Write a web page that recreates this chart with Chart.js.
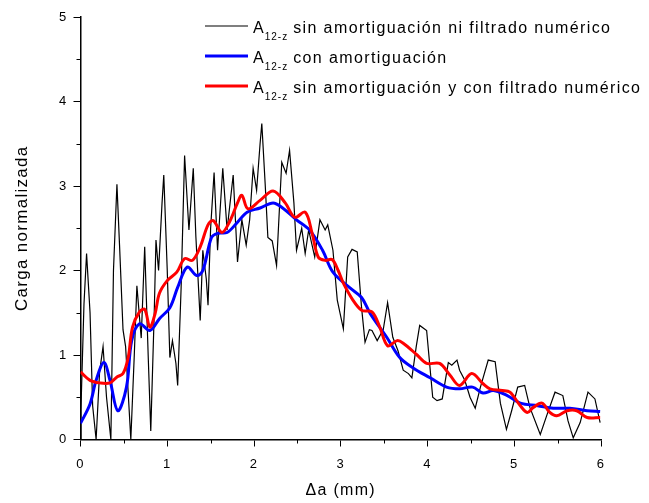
<!DOCTYPE html>
<html>
<head>
<meta charset="utf-8">
<script src="https://cdn.jsdelivr.net/npm/chart.js@4/dist/chart.umd.min.js"></script>
<style>
  html, body { margin: 0; padding: 0; background: #fff; }
  #wrap { width: 649px; height: 503px; }
</style>
</head>
<body>
<div id="wrap"><canvas id="c" width="649" height="503"></canvas></div>
<script>
// Crack extension Δa (mm) and normalised load for A12-z, three processing variants.

// Raw signal: no damping, no numerical filtering
const rawX = [0.00, 0.005, 0.04, 0.07, 0.11, 0.14, 0.18, 0.22, 0.26, 0.30, 0.35, 0.38, 0.42, 0.45, 0.49, 0.52, 0.58,
  0.62, 0.65, 0.70, 0.74, 0.78, 0.81, 0.85, 0.87, 0.90, 0.94, 0.96, 1.00, 1.03, 1.06, 1.10, 1.12, 1.16, 1.20,
  1.25, 1.30, 1.33, 1.38, 1.41, 1.45, 1.47, 1.50, 1.54, 1.58, 1.64, 1.69, 1.76, 1.81, 1.86, 1.91, 1.95, 1.99,
  2.03, 2.07, 2.09, 2.13, 2.16, 2.21, 2.26, 2.32, 2.37, 2.41, 2.46, 2.49, 2.55, 2.59, 2.63, 2.70, 2.76, 2.82,
  2.85, 2.91, 2.96, 3.03, 3.08, 3.13, 3.19, 3.24, 3.28, 3.33, 3.36, 3.42, 3.49, 3.54, 3.60, 3.66, 3.72, 3.78,
  3.82, 3.87, 3.91, 3.99, 4.06, 4.11, 4.17, 4.24, 4.28, 4.34, 4.37, 4.43, 4.49, 4.55, 4.61, 4.70, 4.78, 4.84,
  4.91, 4.97, 5.04, 5.12, 5.18, 5.30, 5.38, 5.47, 5.56, 5.62, 5.68, 5.76, 5.85, 5.93, 5.99];
const rawY = [0.00, 0.35, 1.60, 2.20, 1.50, 0.40, 0.00, 0.80, 1.10, 0.50, 0.00, 2.00, 3.02, 2.30, 1.30, 1.10, 0.00,
  1.00, 1.82, 1.20, 2.28, 1.00, 0.10, 1.50, 2.36, 2.00, 2.80, 3.13, 2.00, 0.97, 1.17, 0.90, 0.64, 1.80, 3.36,
  2.48, 3.21, 2.40, 1.41, 2.24, 1.90, 1.59, 2.50, 3.16, 2.24, 3.21, 2.48, 3.13, 2.10, 2.60, 2.30, 2.60, 3.21,
  2.95, 3.50, 3.74, 3.00, 2.39, 2.35, 2.06, 3.28, 3.15, 3.42, 2.80, 2.24, 2.50, 2.20, 2.48, 2.16, 2.60, 2.48,
  2.54, 2.24, 1.65, 1.31, 2.16, 2.25, 2.22, 1.56, 1.15, 1.30, 1.29, 1.17, 1.30, 1.62, 1.21, 1.05, 0.82, 0.78,
  0.73, 1.10, 1.35, 1.29, 0.50, 0.46, 0.48, 0.91, 0.88, 0.94, 0.82, 0.70, 0.50, 0.37, 0.62, 0.94, 0.92, 0.43,
  0.12, 0.34, 0.62, 0.64, 0.38, 0.06, 0.30, 0.56, 0.52, 0.22, 0.02, 0.20, 0.56, 0.48, 0.20];

// With damping
const dampedX = [0.00, 0.11, 0.18, 0.27, 0.34, 0.43, 0.53, 0.59, 0.68, 0.80, 0.91, 1.03, 1.12, 1.23, 1.34, 1.41,
  1.51, 1.58, 1.69, 1.80, 1.92, 2.07, 2.22, 2.33, 2.49, 2.64, 2.79, 2.91, 3.11, 3.24, 3.34, 3.53, 3.68, 3.83,
  4.03, 4.22, 4.37, 4.52, 4.64, 4.76, 4.92, 5.07, 5.27, 5.45, 5.64, 5.84, 5.99];
const dampedY = [0.19, 0.42, 0.70, 0.91, 0.70, 0.34, 0.62, 1.17, 1.37, 1.29, 1.43, 1.56, 1.80, 2.04, 1.94, 2.00,
  2.39, 2.44, 2.45, 2.56, 2.69, 2.74, 2.80, 2.74, 2.60, 2.48, 2.24, 1.98, 1.79, 1.68, 1.49, 1.21, 0.97, 0.85,
  0.73, 0.62, 0.60, 0.62, 0.55, 0.58, 0.52, 0.43, 0.40, 0.37, 0.37, 0.34, 0.33];

// No damping, with numerical filtering
const filteredX = [0.00, 0.11, 0.22, 0.34, 0.42, 0.49, 0.55, 0.60, 0.68, 0.74, 0.80, 0.86, 0.91, 1.00, 1.11, 1.20,
  1.29, 1.38, 1.47, 1.53, 1.63, 1.72, 1.81, 1.86, 1.93, 2.07, 2.22, 2.36, 2.47, 2.59, 2.67, 2.74, 2.82, 2.90,
  2.97, 3.03, 3.14, 3.24, 3.36, 3.45, 3.54, 3.65, 3.72, 3.88, 3.99, 4.14, 4.26, 4.37, 4.51, 4.64, 4.72, 4.86,
  4.95, 5.07, 5.15, 5.22, 5.32, 5.41, 5.49, 5.61, 5.72, 5.84, 5.99];
const filteredY = [0.80, 0.70, 0.67, 0.67, 0.74, 0.78, 0.97, 1.33, 1.51, 1.54, 1.33, 1.49, 1.73, 1.88, 1.98, 2.14,
  2.12, 2.28, 2.54, 2.59, 2.45, 2.58, 2.80, 2.89, 2.73, 2.83, 2.94, 2.80, 2.63, 2.69, 2.44, 2.16, 2.12, 2.13,
  2.00, 1.85, 1.65, 1.53, 1.51, 1.33, 1.11, 1.17, 1.14, 1.00, 0.90, 0.90, 0.76, 0.64, 0.78, 0.66, 0.60, 0.58,
  0.56, 0.40, 0.32, 0.38, 0.43, 0.32, 0.28, 0.34, 0.34, 0.26, 0.26];

// Axis ticks
const xMajor = [0, 1, 2, 3, 4, 5, 6];
const xMinor = [0.5, 1.5, 2.5, 3.5, 4.5, 5.5];
const yMajor = [0, 1, 2, 3, 4, 5];
const yMinor = [0.5, 1.5, 2.5, 3.5, 4.5];

// Legend entries: main symbol, subscript, description
const seriesSymbol = 'A';
const seriesSubscript = '12-z';
const legendTexts = [
  'sin amortiguación ni filtrado numérico',
  'con amortiguación',
  'sin amortiguación y con filtrado numérico'
];
const seriesColors = ['#000000', '#0000ff', '#ff0000'];
const seriesWidths = [1.2, 3, 3];

const xTitle = 'Δa (mm)';
const yTitle = 'Carga normalizada';

const FONT = '"Liberation Sans", Arial, sans-serif';

const toPoints = (xs, ys) => xs.map((x, i) => ({ x, y: ys[i] }));

// Minor ticks on both axes, drawn through the chart scales
const minorTicks = {
  id: 'minorTicks',
  afterDraw(chart) {
    const ctx = chart.ctx;
    const sx = chart.scales.x, sy = chart.scales.y;
    ctx.save();
    ctx.strokeStyle = '#000';
    ctx.lineWidth = 1;
    ctx.beginPath();
    xMinor.forEach(v => {
      const p = Math.round(sx.getPixelForValue(v)) + 0.5;
      ctx.moveTo(p, sx.top);
      ctx.lineTo(p, sx.top + 4);
    });
    yMinor.forEach(v => {
      const p = Math.round(sy.getPixelForValue(v)) + 0.5;
      ctx.moveTo(sy.right - 4, p);
      ctx.lineTo(sy.right, p);
    });
    ctx.stroke();
    ctx.restore();
  }
};

// Legend with subscripted series symbol
const subLegend = {
  id: 'subLegend',
  afterDraw(chart) {
    const ctx = chart.ctx;
    ctx.save();
    ctx.textAlign = 'left';
    ctx.textBaseline = 'alphabetic';
    legendTexts.forEach((txt, i) => {
      const base = 33 + i * 30;
      ctx.strokeStyle = seriesColors[i];
      ctx.lineWidth = seriesWidths[i];
      ctx.beginPath();
      ctx.moveTo(205, base - 7);
      ctx.lineTo(248, base - 7);
      ctx.stroke();
      ctx.fillStyle = '#000';
      let x = 253;
      ctx.letterSpacing = '1px';
      ctx.font = '16px ' + FONT;
      ctx.fillText(seriesSymbol, x, base);
      x += ctx.measureText(seriesSymbol).width;
      ctx.font = '10px ' + FONT;
      ctx.fillText(seriesSubscript, x, base + 7);
      x += ctx.measureText(seriesSubscript).width + 5;
      ctx.letterSpacing = '1.4px';
      ctx.font = '16px ' + FONT;
      ctx.fillText(txt, x, base);
    });
    ctx.restore();
  }
};

// Wider letter spacing for all canvas text
const spacing = {
  id: 'spacing',
  beforeDraw(chart) { chart.ctx.letterSpacing = '1.3px'; }
};

new Chart(document.getElementById('c'), {
  type: 'line',
  data: {
    datasets: [
      {
        label: seriesSymbol + seriesSubscript + ' ' + legendTexts[2],
        data: toPoints(filteredX, filteredY),
        borderColor: seriesColors[2], borderWidth: seriesWidths[2],
        pointRadius: 0, tension: 0.35, fill: false
      },
      {
        label: seriesSymbol + seriesSubscript + ' ' + legendTexts[1],
        data: toPoints(dampedX, dampedY),
        borderColor: seriesColors[1], borderWidth: seriesWidths[1],
        pointRadius: 0, tension: 0.35, fill: false
      },
      {
        label: seriesSymbol + seriesSubscript + ' ' + legendTexts[0],
        data: toPoints(rawX, rawY),
        borderColor: seriesColors[0], borderWidth: seriesWidths[0],
        pointRadius: 0, tension: 0, fill: false
      }
    ]
  },
  options: {
    responsive: false,
    animation: false,
    devicePixelRatio: 1,
    layout: { padding: { left: 0, right: 48, top: 17, bottom: 0 } },
    plugins: { legend: { display: false }, tooltip: { enabled: false } },
    scales: {
      x: {
        type: 'linear', min: 0, max: 6,
        afterFit(s) { s.height = 63.5; },
        afterBuildTicks(s) { s.ticks = xMajor.map(v => ({ value: v })); },
        border: { display: true, color: '#000', width: 1.5 },
        grid: { display: true, drawOnChartArea: false, drawTicks: true, tickLength: 7, color: '#000', lineWidth: 1 },
        ticks: { color: '#000', padding: 10, maxRotation: 0, font: { family: FONT, size: 13 } },
        title: { display: true, text: xTitle, color: '#000', padding: { top: 0, bottom: 3 }, font: { family: FONT, size: 16 } }
      },
      y: {
        type: 'linear', min: 0, max: 5,
        afterFit(s) { s.width = 80.5; },
        afterBuildTicks(s) { s.ticks = yMajor.map(v => ({ value: v })); },
        border: { display: true, color: '#000', width: 1.5 },
        grid: { display: true, drawOnChartArea: false, drawTicks: true, tickLength: 7, color: '#000', lineWidth: 1 },
        ticks: { color: '#000', padding: 6, font: { family: FONT, size: 13 } },
        title: { display: true, text: yTitle, color: '#000', padding: { top: 12, bottom: 0 }, font: { family: FONT, size: 17 } }
      }
    }
  },
  plugins: [spacing, minorTicks, subLegend]
});
</script>
</body>
</html>
